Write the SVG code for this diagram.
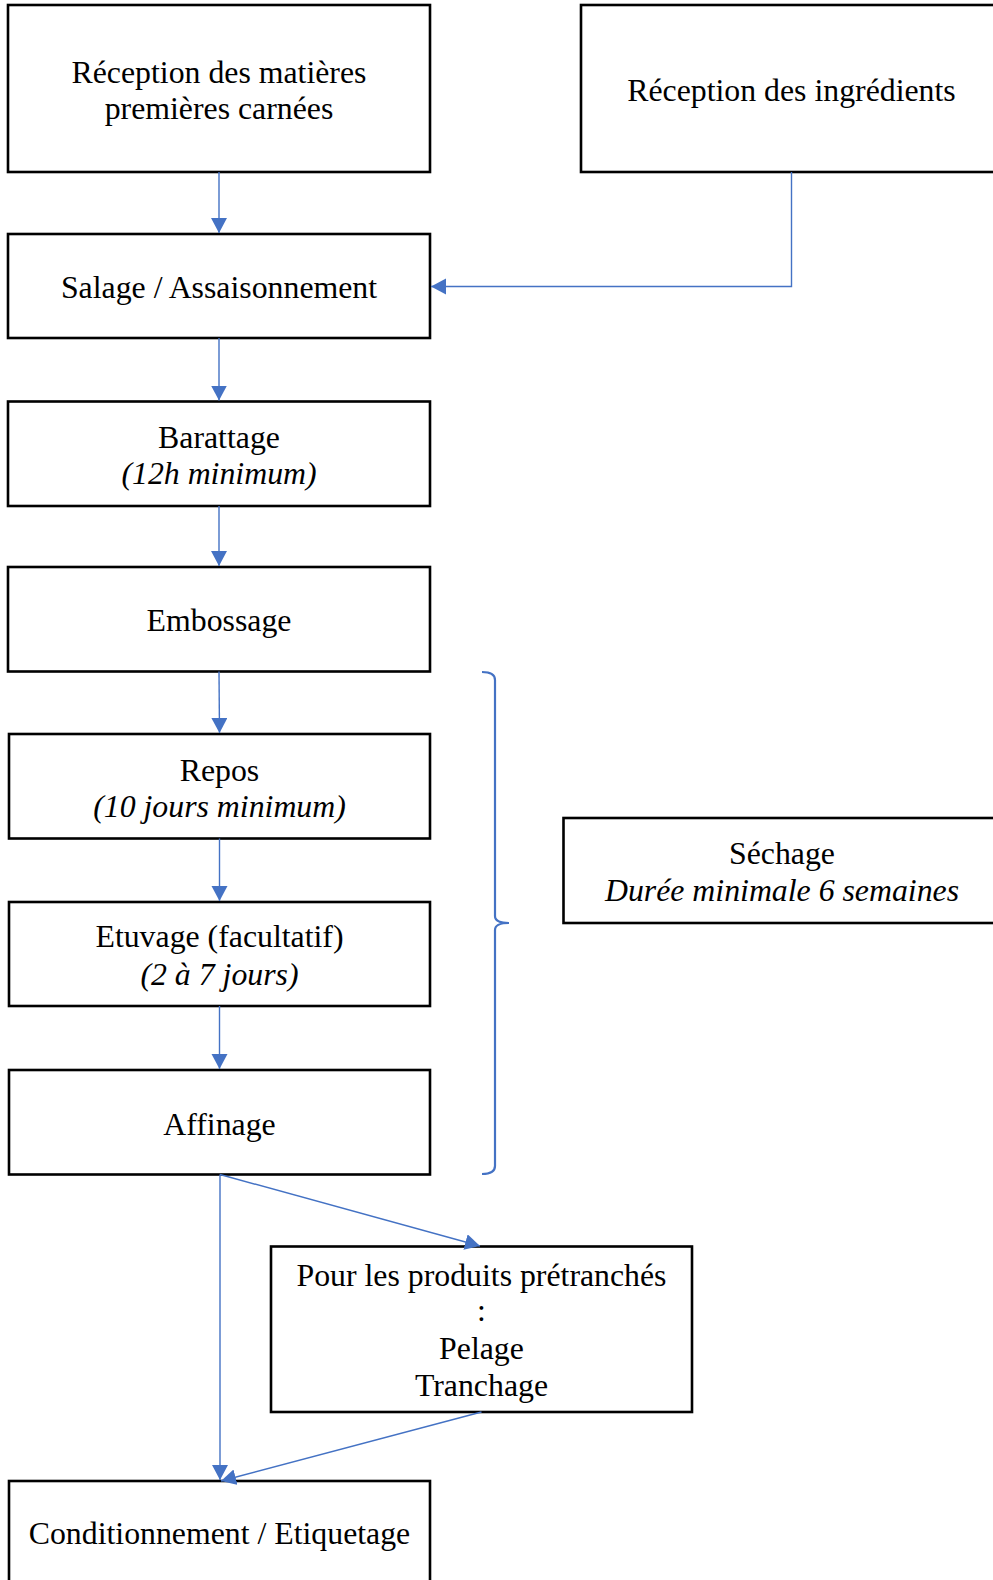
<svg xmlns="http://www.w3.org/2000/svg" width="993" height="1580" viewBox="0 0 993 1580">
<style>
.box{fill:#fff;stroke:#000;stroke-width:2.6}
.t{font-family:"Liberation Serif","Times New Roman",serif;font-size:31.8px;fill:#000;text-anchor:middle}
.i{font-style:italic}
.c{fill:none;stroke:#4472C4;stroke-width:1.4}
.br{fill:none;stroke:#4472C4;stroke-width:2.2}
</style>
<defs>
<marker id="ah" markerUnits="userSpaceOnUse" markerWidth="16" markerHeight="17" refX="15" refY="8" orient="auto">
<path d="M0,0 L15,8 L0,16 z" fill="#4472C4"/>
</marker>
</defs>
<rect width="993" height="1580" fill="#fff"/>
<g id="n1"><rect class="box" x="8" y="5" width="422" height="167"/><text class="t" x="219" y="83">Réception des matières</text><text class="t" x="219" y="119">premières carnées</text></g>
<g id="n2"><rect class="box" x="581" y="5" width="421" height="167"/><text class="t" x="791.5" y="101">Réception des ingrédients</text></g>
<g id="n3"><rect class="box" x="8" y="234" width="422" height="104"/><text class="t" x="219" y="298">Salage / Assaisonnement</text></g>
<g id="n4"><rect class="box" x="8" y="401.5" width="422" height="104.5"/><text class="t" x="219" y="448">Barattage</text><text class="t i" x="219" y="484">(12h minimum)</text></g>
<g id="n5"><rect class="box" x="8" y="567" width="422" height="104.5"/><text class="t" x="219" y="631">Embossage</text></g>
<g id="n6"><rect class="box" x="9" y="734" width="421" height="104.5"/><text class="t" x="219.5" y="781">Repos</text><text class="t i" x="219.5" y="817">(10 jours minimum)</text></g>
<g id="n7"><rect class="box" x="9" y="902" width="421" height="104"/><text class="t" x="219.5" y="947">Etuvage (facultatif)</text><text class="t i" x="219.5" y="985">(2 à 7 jours)</text></g>
<g id="n8"><rect class="box" x="9" y="1070" width="421" height="104.5"/><text class="t" x="219.5" y="1135">Affinage</text></g>
<g id="n9"><rect class="box" x="563.5" y="818" width="437" height="105"/><text class="t" x="782" y="864">Séchage</text><text class="t i" x="782" y="901">Durée minimale 6 semaines</text></g>
<g id="n10"><rect class="box" x="271" y="1246.5" width="421" height="165.5"/><text class="t" x="481.5" y="1286">Pour les produits prétranchés</text><text class="t" x="481.5" y="1321">:</text><text class="t" x="481.5" y="1359">Pelage</text><text class="t" x="481.5" y="1396">Tranchage</text></g>
<g id="n11"><rect class="box" x="9" y="1481" width="421" height="110"/><text class="t" x="219.5" y="1544">Conditionnement / Etiquetage</text></g>
<g id="connectors">
<path class="c" d="M219,172 V233" marker-end="url(#ah)"/>
<path class="c" d="M791.5,172 V286.5 H431" marker-end="url(#ah)"/>
<path class="c" d="M219,338 V400.5" marker-end="url(#ah)"/>
<path class="c" d="M219,506 V566" marker-end="url(#ah)"/>
<path class="c" d="M219,671.5 L219.5,733" marker-end="url(#ah)"/>
<path class="c" d="M219.5,838.5 V901" marker-end="url(#ah)"/>
<path class="c" d="M219.5,1006 V1069" marker-end="url(#ah)"/>
<path class="c" d="M220,1174.5 V1480" marker-end="url(#ah)"/>
<path class="c" d="M220,1174.5 L480,1246" marker-end="url(#ah)"/>
<path class="c" d="M481.5,1412 L221,1481" marker-end="url(#ah)"/>
<path class="br" d="M482,672 Q495,672 495,680 V916 Q495,923 509,923 M509,923 Q495,923 495,930 V1166 Q495,1174 482,1174"/>
</g>
</svg>
